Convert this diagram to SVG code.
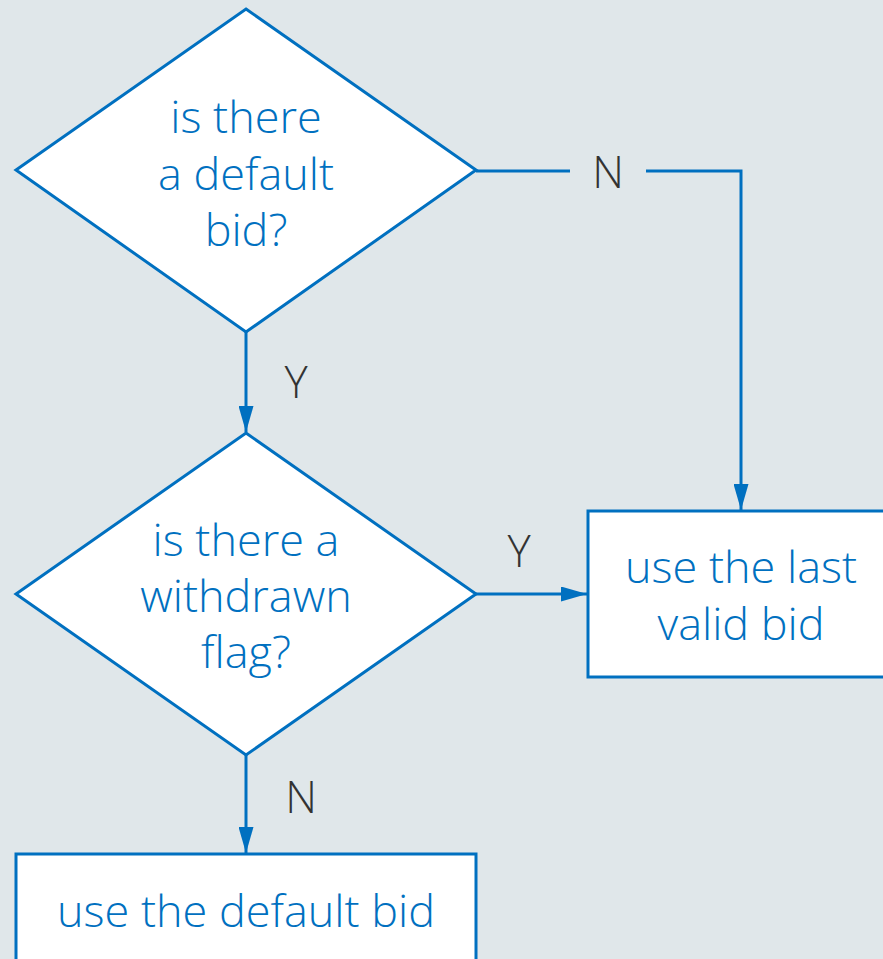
<svg xmlns="http://www.w3.org/2000/svg" width="883" height="959" viewBox="0 0 883 959">
<defs>
<style>
.shape{fill:#ffffff;stroke:#0070c0;stroke-width:3}
.t{font-family:"Open Sans","Noto Sans",sans-serif;font-size:45px;font-weight:300;fill:#0070c0;text-anchor:middle}
.lbl{font-family:"Open Sans","Noto Sans",sans-serif;font-size:44px;font-weight:300;fill:#333333;text-anchor:middle}
.c{fill:none;stroke:#0070c0;stroke-width:3}
</style>
<marker id="arr" viewBox="0 0 26 15" refX="26" refY="7.5" markerWidth="26" markerHeight="15" markerUnits="userSpaceOnUse" orient="auto">
<path d="M0,0 L26,7.5 L0,15 Z" fill="#0070c0"/>
</marker>
</defs>
<rect width="883" height="959" fill="#e0e7ea"/>
<g id="connectors">
<line class="c" x1="246" y1="332" x2="246" y2="432" marker-end="url(#arr)"/>
<line class="c" x1="476" y1="171" x2="570" y2="171"/>
<polyline class="c" points="646,171 741,171 741,510" marker-end="url(#arr)"/>
<line class="c" x1="476" y1="594" x2="587" y2="594" marker-end="url(#arr)"/>
<line class="c" x1="246" y1="755" x2="246" y2="853" marker-end="url(#arr)"/>
<text class="lbl" x="608" y="188">N</text>
<text class="lbl" x="296" y="398">Y</text>
<text class="lbl" x="519" y="567">Y</text>
<text class="lbl" x="301" y="813">N</text>
</g>
<g id="d1">
<polygon class="shape" points="246,9 476,170 246,332 16,170"/>
<text class="t" x="246" y="133">is there</text>
<text class="t" x="246" y="190">a default</text>
<text class="t" x="246" y="246">bid?</text>
</g>
<g id="d2">
<polygon class="shape" points="246,433 476,594 246,755 16,594"/>
<text class="t" x="246" y="556">is there a</text>
<text class="t" x="246" y="612">withdrawn</text>
<text class="t" x="246" y="668">flag?</text>
</g>
<g id="last">
<rect class="shape" x="588" y="511" width="310" height="166"/>
<text class="t" x="741" y="583">use the last</text>
<text class="t" x="741" y="640">valid bid</text>
</g>
<g id="default">
<rect class="shape" x="16" y="854" width="460" height="120"/>
<text class="t" x="246" y="927">use the default bid</text>
</g>
</svg>
